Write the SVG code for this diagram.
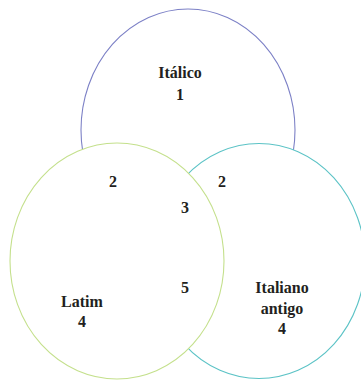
<svg xmlns="http://www.w3.org/2000/svg" width="361" height="380" viewBox="0 0 361 380">
<style>
.c{fill:#fff;stroke-width:1.1}
.t{font-family:"Liberation Serif","Times New Roman",serif;font-weight:bold;font-size:16px;fill:#231f20;text-anchor:middle}
</style>
<rect width="361" height="380" fill="#fff"/>
<g id="italico">
<ellipse class="c" cx="188" cy="130" rx="107" ry="121" stroke="#7c80c6"/>
<text class="t" x="180" y="78">Itálico</text>
<text class="t" x="180" y="100">1</text>
</g>
<g id="italiano-antigo">
<ellipse class="c" cx="259" cy="261" rx="106" ry="117.5" stroke="#5cc3c6"/>
<text class="t" x="282" y="293">Italiano</text>
<text class="t" x="282" y="314">antigo</text>
<text class="t" x="282" y="334">4</text>
</g>
<g id="latim">
<ellipse class="c" cx="117" cy="261" rx="107" ry="118" stroke="#c4e08c"/>
<text class="t" x="82" y="307">Latim</text>
<text class="t" x="82" y="327">4</text>
</g>
<g id="labels">
<text class="t" x="113" y="187">2</text>
<text class="t" x="222" y="187">2</text>
<text class="t" x="185" y="213">3</text>
<text class="t" x="185" y="293">5</text>
</g>
</svg>
